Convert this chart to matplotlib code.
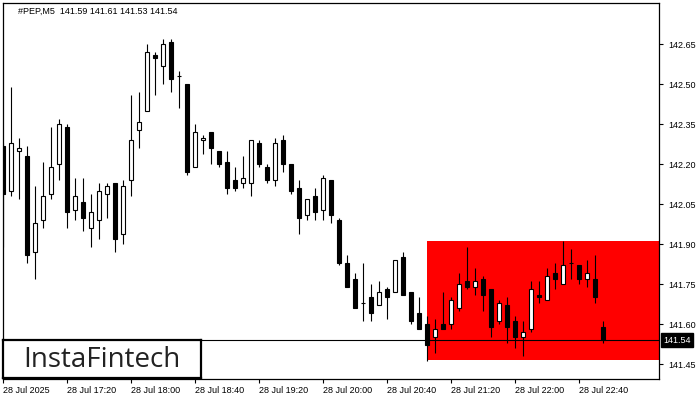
import numpy as np
import matplotlib
matplotlib.use("Agg")
import matplotlib.pyplot as plt

# PEP M5 candles (oldest first, 16:40 -> 22:55)
opens = [142.27, 142.10, 142.25, 142.23, 141.87, 141.99, 142.09, 142.20, 142.34, 142.03,
         142.06, 141.96, 141.99, 142.09, 142.13, 141.94, 142.14, 142.33, 142.40, 142.61,
         142.57, 142.66, 142.53, 142.50, 142.19, 142.29, 142.32, 142.25, 142.21, 142.14,
         142.13, 142.13, 142.28, 142.19, 142.14, 142.29, 142.20, 142.11, 142.01, 142.08,
         142.03, 142.14, 141.99, 141.83, 141.77, 141.68, 141.70, 141.67, 141.73, 141.72,
         141.85, 141.72, 141.64, 141.60, 141.55, 141.60, 141.60, 141.66, 141.76, 141.74,
         141.77, 141.73, 141.61, 141.67, 141.61, 141.55, 141.58, 141.71, 141.69, 141.79,
         141.75, 141.83, 141.82, 141.77, 141.77, 141.59]
highs = [142.28, 142.49, 142.30, 142.27, 142.12, 142.21, 142.34, 142.37, 142.35, 142.15,
         142.15, 142.09, 142.13, 142.13, 142.13, 142.14, 142.46, 142.47, 142.65, 142.62,
         142.67, 142.67, 142.55, 142.50, 142.35, 142.31, 142.32, 142.25, 142.25, 142.19,
         142.23, 142.29, 142.29, 142.20, 142.30, 142.31, 142.20, 142.14, 142.07, 142.11,
         142.16, 142.14, 142.00, 141.86, 141.79, 141.83, 141.75, 141.76, 141.74, 141.84,
         141.87, 141.72, 141.70, 141.63, 141.62, 141.72, 141.70, 141.79, 141.89, 141.81,
         141.78, 141.73, 141.69, 141.70, 141.63, 141.61, 141.76, 141.76, 141.81, 141.83,
         141.91, 141.88, 141.82, 141.84, 141.86, 141.61]
lows = [141.89, 142.08, 142.07, 141.83, 141.77, 141.96, 142.07, 142.14, 141.96, 141.99,
        141.95, 141.89, 141.92, 142.00, 141.87, 141.90, 142.08, 142.26, 142.40, 142.46,
        142.50, 142.47, 142.41, 142.16, 142.19, 142.24, 142.20, 142.19, 142.09, 142.10,
        142.11, 142.08, 142.19, 142.13, 142.12, 142.17, 142.09, 141.94, 141.99, 141.99,
        141.99, 141.98, 141.82, 141.74, 141.66, 141.61, 141.61, 141.67, 141.62, 141.72,
        141.71, 141.60, 141.58, 141.46, 141.49, 141.58, 141.58, 141.65, 141.73, 141.71,
        141.65, 141.55, 141.60, 141.53, 141.51, 141.48, 141.57, 141.68, 141.69, 141.73,
        141.75, 141.77, 141.75, 141.74, 141.68, 141.53]
closes = [142.09, 142.28, 142.26, 141.86, 141.98, 142.08, 142.19, 142.35, 142.02, 142.08,
          142.00, 142.02, 142.10, 142.12, 141.92, 142.12, 142.29, 142.36, 142.62, 142.60,
          142.65, 142.52, 142.53, 142.17, 142.32, 142.30, 142.26, 142.20, 142.11, 142.11,
          142.15, 142.29, 142.20, 142.14, 142.28, 142.20, 142.10, 142.00, 142.07, 142.02,
          142.15, 142.01, 141.83, 141.74, 141.66, 141.68, 141.64, 141.72, 141.70, 141.84,
          141.71, 141.61, 141.58, 141.52, 141.58, 141.58, 141.69, 141.75, 141.74, 141.76,
          141.71, 141.59, 141.68, 141.59, 141.55, 141.57, 141.73, 141.70, 141.78, 141.77,
          141.82, 141.83, 141.77, 141.79, 141.70, 141.54]

# pattern zone (red box) and current price
zone_start = 53
zone_top = 141.91
zone_bottom = 141.465
last_price = 141.54

ytick_vals = [141.45, 141.60, 141.75, 141.90, 142.05, 142.20, 142.35, 142.50, 142.65]
xtick_pos = [0, 8, 16, 24, 32, 40, 48, 56, 64, 72]
xtick_labels = ["28 Jul 2025", "28 Jul 17:20", "28 Jul 18:00", "28 Jul 18:40", "28 Jul 19:20",
                "28 Jul 20:00", "28 Jul 20:40", "28 Jul 21:20", "28 Jul 22:00", "28 Jul 22:40"]
header = "#PEP,M5  141.59 141.61 141.53 141.54"

plt.rcParams['font.family'] = ['Liberation Sans', 'DejaVu Sans']

fig = plt.figure(figsize=(7, 4), dpi=100)
ax = fig.add_axes([2.7 / 700, 21 / 400, 656.8 / 700, 376 / 400])

o = np.array(opens)
h = np.array(highs)
l = np.array(lows)
c = np.array(closes)
x = np.arange(len(o))

# zone
ax.fill_between([zone_start, 200], zone_bottom, zone_top, color='#ff0000', lw=0, zorder=1)
ax.axhline(last_price, color='black', lw=0.8, zorder=2)

# candles
ax.vlines(x, l, h, color='black', lw=0.8, zorder=3)
face = np.where(c < o, 'black', 'white')
ax.bar(x, np.abs(c - o), bottom=np.minimum(o, c), width=0.55, color=face,
       edgecolor='black', linewidth=0.8, zorder=4)

ax.set_xlim(-0.06, 82.04)
ax.set_ylim(141.394, 142.805)

ax.yaxis.tick_right()
ax.set_yticks(ytick_vals)
ax.set_yticklabels([f"{v:.2f}" for v in ytick_vals])
ax.set_xticks(xtick_pos)
ax.set_xticklabels(xtick_labels, ha='left')
ax.tick_params(axis='both', direction='out', length=3, width=0.8, labelsize=6.5, colors='black')
ax.tick_params(axis='y', pad=3)
ax.tick_params(axis='x', pad=2)
for s in ax.spines.values():
    s.set_linewidth(0.9)
    s.set_color('black')

ax.text(0.0233, 0.979, header, transform=ax.transAxes, fontsize=6.5, va='center', ha='left')

# current price tag on the right scale
ax.text(1.006, last_price, f"{last_price:.2f}", transform=ax.get_yaxis_transform(),
        fontsize=6.5, color='white', va='center', ha='left', clip_on=False,
        bbox=dict(boxstyle='square,pad=0.25', facecolor='black', edgecolor='black'))

# logo
logo = fig.add_axes([3 / 700, 22 / 400, 198 / 700, 38 / 400])
logo.set_facecolor('white')
logo.set_xticks([])
logo.set_yticks([])
for s in logo.spines.values():
    s.set_linewidth(1.6)
    s.set_color('black')
logo.text(0.5, 0.48, "InstaFintech", fontsize=20, color='#222222', family='Open Sans',
          ha='center', va='center', transform=logo.transAxes)

fig.savefig("out.png", dpi=100)
